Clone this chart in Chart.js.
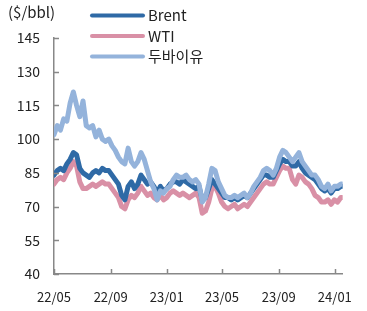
<!DOCTYPE html>
<html>
<head>
<meta charset="utf-8">
<script src="https://cdn.jsdelivr.net/npm/chart.js@4"></script>
<style>
  html, body { margin: 0; padding: 0; background: #fff; }
  #wrap { width: 367px; height: 311px; position: relative; }
</style>
</head>
<body>
<div id="wrap"><canvas id="grafico"></canvas></div>
<script>
// days since 2022-05-01, weekly samples
const dias = [];
for (let d = 0; d <= 623; d += 7) dias.push(d);
dias.push(626);

const brent = [84, 86, 87, 86, 89, 91, 94, 93, 87, 85, 84, 83, 85, 86, 85, 87, 86, 86, 84, 82,
  80, 75, 73, 79, 81, 78, 80, 84, 82, 80, 81, 79, 76, 79, 77, 78, 80, 81, 81, 80,
  82, 81, 80, 79, 78, 79, 73, 74, 78, 82, 80, 78, 76, 74, 74, 73, 74, 73, 74, 75,
  74, 76, 78, 80, 82, 84, 84, 83, 83, 86, 89, 91, 90, 90, 88, 88, 90, 87, 85, 84,
  83, 82, 80, 78, 77, 78, 76, 78, 78, 79, 79];
const wti = [80, 82, 83, 82, 85, 87, 90, 88, 81, 78, 78, 79, 80, 79, 80, 81, 80, 80, 78, 76,
  74, 70, 69, 73, 75, 74, 76, 79, 77, 75, 76, 74, 73, 75, 73, 74, 76, 77, 76, 75,
  76, 75, 74, 75, 76, 74, 67, 68, 72, 78, 79, 76, 72, 70, 69, 70, 71, 69, 70, 71,
  70, 72, 74, 76, 78, 80, 81, 80, 80, 83, 86, 88, 87, 87, 82, 80, 84, 83, 81, 80,
  78, 75, 74, 72, 72, 73, 71, 73, 72, 74, 74];
const dubai = [102, 106, 104, 109, 108, 116, 121, 115, 110, 117, 106, 105, 106, 101, 104, 100, 99, 100, 97, 95,
  92, 90, 89, 96, 90, 88, 90, 94, 91, 86, 81, 78, 73, 77, 76, 78, 79, 82, 84, 83,
  83, 84, 82, 81, 82, 80, 72, 74, 80, 87, 86, 81, 78, 75, 74, 74, 75, 74, 75, 76,
  74, 76, 79, 81, 83, 86, 87, 86, 84, 87, 92, 95, 94, 92, 90, 92, 94, 90, 88, 86,
  84, 84, 82, 79, 78, 80, 77, 79, 79, 80, 80];

const etiquetasX = ["22/05", "22/09", "23/01", "23/05", "23/09", "24/01"];
const diasX = [0, 123, 245, 365, 488, 610];
const etiquetasY = [40, 55, 70, 85, 100, 115, 130, 145];

const colores = { brent: "#2f6aa6", wti: "#d990a6", dubai: "#94b3db" };
const fuente = "'Noto Sans CJK KR', 'Noto Sans', sans-serif";

function puntos(valores) {
  return valores.map((v, i) => ({ x: dias[i], y: v }));
}

// inward tick marks, legend and unit label
const extras = {
  id: "extras",
  afterDraw(chart) {
    const ctx = chart.ctx;
    const xs = chart.scales.x;
    const ys = chart.scales.y;
    ctx.save();
    ctx.strokeStyle = "#888";
    ctx.lineWidth = 1.5;
    ctx.beginPath();
    etiquetasY.forEach((v) => {
      const py = Math.round(ys.getPixelForValue(v)) + 0.5;
      ctx.moveTo(xs.left, py);
      ctx.lineTo(xs.left + 5, py);
    });
    diasX.forEach((d) => {
      const px = Math.round(xs.getPixelForValue(d)) + 0.5;
      ctx.moveTo(px, ys.bottom);
      ctx.lineTo(px, ys.bottom - 5);
    });
    ctx.stroke();

    ctx.fillStyle = "#222";
    ctx.font = "15px " + fuente;
    ctx.textBaseline = "middle";
    ctx.textAlign = "left";
    ctx.fillText("($/bbl)", 8, 12);

    const items = [
      ["Brent", colores.brent, 15.5],
      ["WTI", colores.wti, 36],
      ["두바이유", colores.dubai, 56.5],
    ];
    ctx.lineCap = "round";
    ctx.lineWidth = 4;
    items.forEach(([txt, col, y]) => {
      ctx.strokeStyle = col;
      ctx.beginPath();
      ctx.moveTo(92, y);
      ctx.lineTo(143, y);
      ctx.stroke();
      ctx.fillText(txt, 148, y);
    });
    ctx.restore();
  },
};

const ctx = document.getElementById("grafico").getContext("2d");
const grafico = new Chart(ctx, {
  type: "line",
  data: {
    datasets: [
      { label: "Brent", data: puntos(brent), borderColor: colores.brent, order: 1 },
      { label: "WTI", data: puntos(wti), borderColor: colores.wti, order: 2 },
      { label: "두바이유", data: puntos(dubai), borderColor: colores.dubai, order: 0 },
    ],
  },
  options: {
    responsive: true,
    maintainAspectRatio: false,
    animation: false,
    parsing: true,
    elements: {
      point: { radius: 0 },
      line: { borderWidth: 5, tension: 0, borderJoinStyle: "round", borderCapStyle: "round" },
    },
    layout: { padding: { left: 0, top: 38, right: 7, bottom: 0 } },
    plugins: { legend: { display: false }, tooltip: { enabled: false } },
    scales: {
      x: {
        type: "linear",
        min: 0,
        max: 627,
        afterBuildTicks: (s) => { s.ticks = diasX.map((v) => ({ value: v })); },
        afterFit: (s) => { s.height = 37; },
        grid: { display: false, drawTicks: false },
        border: { display: true, color: "#888", width: 1.5 },
        ticks: {
          autoSkip: false,
          maxRotation: 0,
          padding: 15,
          color: "#222",
          font: { family: fuente, size: 13 },
          callback: (v, i) => etiquetasX[i],
        },
      },
      y: {
        min: 40,
        max: 145,
        afterBuildTicks: (s) => { s.ticks = etiquetasY.map((v) => ({ value: v })); },
        afterFit: (s) => { s.width = 54; },
        grid: { display: false, drawTicks: false },
        border: { display: true, color: "#888", width: 1.5 },
        ticks: {
          padding: 14,
          color: "#222",
          font: { family: fuente, size: 14 },
        },
      },
    },
  },
  plugins: [extras],
});
</script>
</body>
</html>
